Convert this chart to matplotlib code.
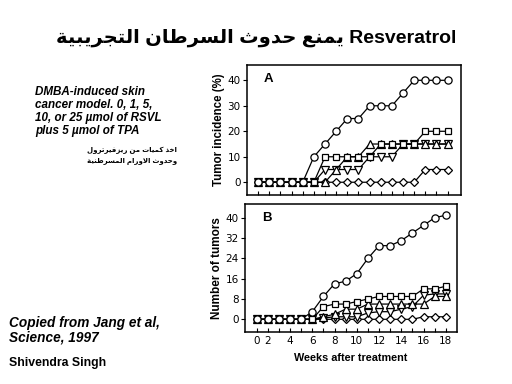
import matplotlib
matplotlib.use("Agg")
import matplotlib.pyplot as plt
from matplotlib import ticker

# Data (weeks after treatment)
weeks = list(range(1, 19))
tick_pos = [1, 2, 4, 6, 8, 10, 12, 14, 16, 18]
tick_labels = ["0", "2", "4", "6", "8", "10", "12", "14", "16", "18"]

# Panel A: tumor incidence (%)
inc_circle = [0, 0, 0, 0, 0, 10, 15, 20, 25, 25, 30, 30, 30, 35, 40, 40, 40, 40]
inc_square = [0, 0, 0, 0, 0, 0, 10, 10, 10, 10, 10, 15, 15, 15, 15, 20, 20, 20]
inc_up = [0, 0, 0, 0, 0, 0, 0, 5, 10, 10, 15, 15, 15, 15, 15, 15, 15, 15]
inc_down = [0, 0, 0, 0, 0, 0, 5, 5, 5, 5, 10, 10, 10, 15, 15, 15, 15, 15]
inc_diamond = [0, 0, 0, 0, 0, 0, 0, 0, 0, 0, 0, 0, 0, 0, 0, 5, 5, 5]

# Panel B: number of tumors
num_circle = [0, 0, 0, 0, 0, 3, 9, 14, 15, 18, 24, 29, 29, 31, 34, 37, 40, 41]
num_square = [0, 0, 0, 0, 0, 0, 5, 6, 6, 7, 8, 9, 9, 9, 9, 12, 12, 13]
num_up = [0, 0, 0, 0, 0, 0, 1, 2, 4, 4, 6, 6, 6, 6, 6, 6, 9, 9]
num_down = [0, 0, 0, 0, 0, 0, 0.5, 1, 1, 1, 2.5, 3, 3, 4, 5, 9.5, 10, 10]
num_diamond = [0, 0, 0, 0, 0, 0, 0, 0, 0, 0, 0, 0, 0, 0, 0, 1, 1, 1]

TITLE_AR = "يمنع حدوث السرطان التجريبية"
NOTE_AR_1 = "اخذ كميات من ريزفيرترول"
NOTE_AR_2 = "وحدوث الاورام المسرطنية"

# Arabic presentation forms: base code point, dual-joining?
FORMS = {
    'ا': (0xFE8D, False), 'ب': (0xFE8F, True), 'ة': (0xFE93, False),
    'ت': (0xFE95, True), 'ث': (0xFE99, True), 'ج': (0xFE9D, True),
    'ح': (0xFEA1, True), 'خ': (0xFEA5, True), 'د': (0xFEA9, False),
    'ذ': (0xFEAB, False), 'ر': (0xFEAD, False), 'ز': (0xFEAF, False),
    'س': (0xFEB1, True), 'ط': (0xFEC1, True), 'ع': (0xFEC9, True),
    'ف': (0xFED1, True), 'ك': (0xFED9, True), 'ل': (0xFEDD, True),
    'م': (0xFEE1, True), 'ن': (0xFEE5, True), 'و': (0xFEED, False),
    'ي': (0xFEF1, True), '\ufefb': (0xFEFB, False),
}


def shape(text):
    """Join Arabic letters and return them in visual (left-to-right) order"""
    text = text.replace('لا', '\ufefb')
    out = []
    for i, ch in enumerate(text):
        if ch not in FORMS:
            out.append(ch)
            continue
        base, dual = FORMS[ch]
        prev = text[i - 1] if i > 0 else ''
        nxt = text[i + 1] if i + 1 < len(text) else ''
        jp = prev in FORMS and FORMS[prev][1]
        jn = dual and nxt in FORMS
        off = 3 if (jp and jn) else 1 if jp else 2 if jn else 0
        out.append(chr(base + off))
    return ''.join(reversed(out))


FAM = ['Liberation Sans', 'DejaVu Sans']

fig = plt.figure(figsize=(5.12, 3.84), dpi=100, facecolor='white')

# Title
fig.text(0.5, 0.902, shape(TITLE_AR) + " Resveratrol", ha='center', va='center',
         fontsize=14, fontweight='bold', family=FAM)

# Left notes
fig.text(0.068, 0.776,
         "DMBA-induced skin\ncancer model. 0, 1, 5,\n10, or 25 \u00b5mol of RSVL\nplus 5 \u00b5mol of TPA",
         ha='left', va='top', fontsize=8.4, fontweight='bold', style='italic',
         family=FAM, linespacing=1.12)
fig.text(0.345, 0.607, shape(NOTE_AR_1), ha='right', va='center',
         fontsize=5, fontweight='bold', family=FAM)
fig.text(0.345, 0.581, shape(NOTE_AR_2), ha='right', va='center',
         fontsize=5, fontweight='bold', family=FAM)

fig.text(0.018, 0.178, "Copied from Jang et al,\nScience, 1997", ha='left', va='top',
         fontsize=9.8, fontweight='bold', style='italic', family=FAM, linespacing=1.1)
fig.text(0.018, 0.055, "Shivendra Singh", ha='left', va='center',
         fontsize=8.8, fontweight='bold', family=FAM)

ax_a = fig.add_axes([0.4824, 0.4922, 0.418, 0.3385])
ax_b = fig.add_axes([0.4785, 0.1354, 0.414, 0.3333])

markers = ['o', 's', '^', 'v', 'D']
sizes = [5.2, 5, 5.2, 5.2, 4.4]
series_a = [inc_circle, inc_square, inc_up, inc_down, inc_diamond]
series_b = [num_circle, num_square, num_up, num_down, num_diamond]

for ax, series in ((ax_a, series_a), (ax_b, series_b)):
    # draw from bottom series up so upper curves sit on top
    for vals, m, ms in reversed(list(zip(series, markers, sizes))):
        ax.plot(weeks, vals, color='black', linewidth=0.9, marker=m, markersize=ms,
                markerfacecolor='white', markeredgecolor='black', markeredgewidth=0.9)
    for spine in ax.spines.values():
        spine.set_linewidth(1.1)
    ax.tick_params(axis='y', direction='out', length=3, width=0.8, labelsize=7.5, pad=1.5)
    ax.tick_params(axis='x', which='both', direction='in', length=3, width=0.8,
                   labelsize=7.5, pad=3)
    ax.xaxis.set_minor_locator(ticker.FixedLocator(weeks))

ax_a.set_xlim(0, 19.2)
ax_a.set_ylim(-5, 46)
ax_a.set_yticks([0, 10, 20, 30, 40])
ax_a.set_xticks(weeks)
ax_a.set_xticklabels([])
ax_a.set_ylabel("Tumor incidence (%)", fontsize=8.3, fontweight='bold', family=FAM, labelpad=2)
ax_a.text(0.08, 0.94, "A", transform=ax_a.transAxes, ha='left', va='top',
          fontsize=9.5, fontweight='bold', family=FAM)

ax_b.set_xlim(-0.05, 19)
ax_b.set_ylim(-5, 45.4)
ax_b.set_yticks([0, 8, 16, 24, 32, 40])
ax_b.set_xticks(tick_pos)
ax_b.set_xticklabels(tick_labels)
ax_b.set_ylabel("Number of tumors", fontsize=8.5, fontweight='bold', family=FAM, labelpad=2)
ax_b.set_xlabel("Weeks after treatment", fontsize=7.8, fontweight='bold', family=FAM, labelpad=5)
ax_b.text(0.08, 0.94, "B", transform=ax_b.transAxes, ha='left', va='top',
          fontsize=9.5, fontweight='bold', family=FAM)

fig.savefig("out.png", dpi=100, facecolor='white')
plt.close(fig)
